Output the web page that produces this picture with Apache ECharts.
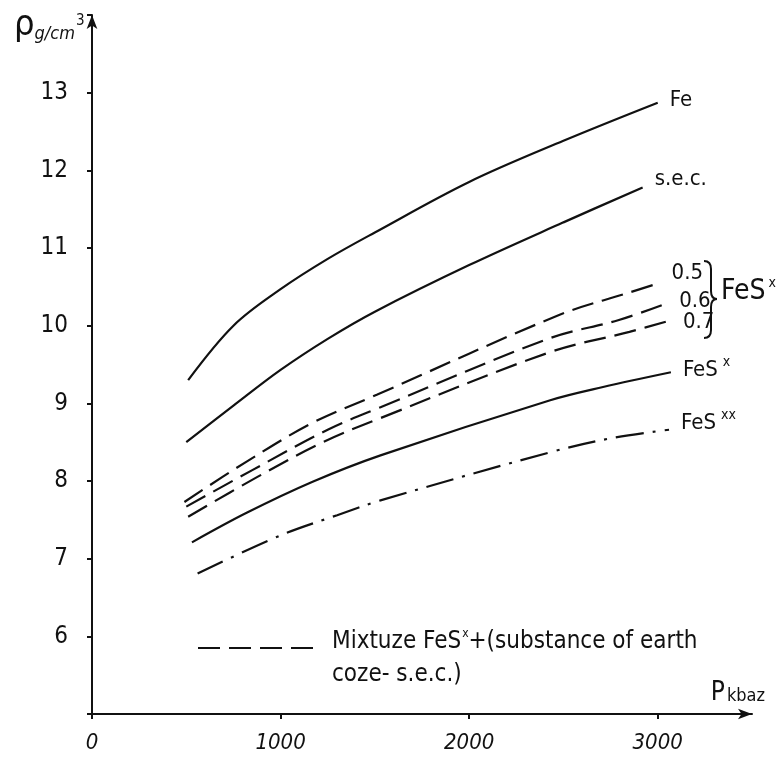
<!DOCTYPE html>
<html>
<head>
<meta charset="utf-8">
<script src="https://cdn.jsdelivr.net/npm/echarts@6/dist/echarts.min.js"></script>
<style>
  html, body { margin: 0; padding: 0; background: #fff; }
  #chart { width: 777px; height: 760px; }
</style>
</head>
<body>
<div id="chart"></div>
<script>
// density (g/cm3) vs pressure (kbar)
const feData = [[510, 9.3], [750, 10.0], [1000, 10.47], [1250, 10.86], [1500, 11.2], [2000, 11.85], [2500, 12.38], [3000, 12.87]];
const secData = [[500, 8.5], [750, 8.97], [1000, 9.43], [1250, 9.83], [1500, 10.18], [2000, 10.78], [2500, 11.33], [2920, 11.78]];
const mix05Data = [[490, 7.73], [820, 8.25], [1170, 8.75], [1510, 9.11], [2480, 10.14], [2840, 10.42], [3010, 10.55]];
const mix06Data = [[500, 7.67], [850, 8.14], [1250, 8.66], [1530, 8.95], [2430, 9.84], [2790, 10.07], [3050, 10.29]];
const mix07Data = [[510, 7.54], [875, 8.05], [1225, 8.5], [1530, 8.81], [2430, 9.66], [2850, 9.92], [3070, 10.07]];
const fesData = [[530, 7.21], [820, 7.59], [1170, 7.99], [1530, 8.33], [2430, 9.04], [2710, 9.21], [3070, 9.4]];
const fesxxData = [[560, 6.81], [1000, 7.3], [1300, 7.56], [1530, 7.75], [2430, 8.37], [2750, 8.55], [3060, 8.66]];

const font = "'DejaVu Sans Condensed', 'Noto Sans', sans-serif";
const ink = '#111';
const dash = [22, 9];
const dashDot = [28, 9, 3, 9];

const chart = echarts.init(document.getElementById('chart'));

// shared end label style
const endLab = (text, offset) => ({
  show: true,
  formatter: text,
  distance: 12,
  offset: offset || [0, 0],
  color: ink,
  fontFamily: font,
  fontSize: 22,
  rich: {
    sup: { fontFamily: font, fontSize: 14, color: ink, verticalAlign: 'top', padding: [0, 0, 16, 5] },
  },
});

const line = (name, data, type, label) => ({
  name,
  type: 'line',
  data,
  smooth: 0.35,
  symbol: 'none',
  silent: true,
  lineStyle: { color: ink, width: 2.2, type },
  endLabel: label,
});

// brace pieces (decoration beside the 0.5/0.6/0.7 labels)
const braceStyle = { stroke: ink, lineWidth: 2, fill: 'none' };
const brace = [
  { type: 'bezierCurve', shape: { x1: 704, y1: 261, cpx1: 711, cpy1: 261, x2: 711, y2: 269 }, style: braceStyle },
  { type: 'line', shape: { x1: 711, y1: 269, x2: 711, y2: 291 }, style: braceStyle },
  { type: 'bezierCurve', shape: { x1: 711, y1: 291, cpx1: 711, cpy1: 299, x2: 717, y2: 299 }, style: braceStyle },
  { type: 'bezierCurve', shape: { x1: 717, y1: 299, cpx1: 711, cpy1: 299, x2: 711, y2: 307 }, style: braceStyle },
  { type: 'line', shape: { x1: 711, y1: 307, x2: 711, y2: 330 }, style: braceStyle },
  { type: 'bezierCurve', shape: { x1: 711, y1: 330, cpx1: 711, cpy1: 338, x2: 704, y2: 338 }, style: braceStyle },
];

const option = {
  animation: false,
  grid: { left: 92, right: 25, top: 15, bottom: 46 },
  xAxis: {
    type: 'value',
    min: 0,
    max: 3500,
    interval: 1000,
    axisLine: { lineStyle: { color: ink, width: 2 }, symbol: ['none', 'arrow'], symbolSize: [8, 14] },
    axisTick: { lineStyle: { color: ink, width: 2 }, length: 5 },
    splitLine: { show: false },
    axisLabel: {
      showMaxLabel: false,
      margin: 18,
      color: ink,
      fontFamily: font,
      fontSize: 22,
      fontStyle: 'italic',
      formatter: (v) => String(v),
    },
  },
  yAxis: {
    type: 'value',
    min: 5,
    max: 14,
    interval: 1,
    axisLine: { show: true, lineStyle: { color: ink, width: 2 }, symbol: ['none', 'arrow'], symbolSize: [8, 14] },
    axisTick: { show: true, lineStyle: { color: ink, width: 2 }, length: 5 },
    splitLine: { show: false },
    axisLabel: {
      margin: 24,
      color: ink,
      fontFamily: font,
      fontSize: 24,
      formatter: (v) => (v === 5 || v === 14 ? '' : String(v)),
    },
  },
  series: [
    line('Fe', feData, 'solid', endLab('Fe', [0, -2])),
    line('s.e.c.', secData, 'solid', endLab('s.e.c.', [0, -8])),
    line('0.5', mix05Data, dash, endLab('0.5', [0, -10])),
    line('0.6', mix06Data, dash, endLab('0.6', [0, -2])),
    line('0.7', mix07Data, dash, endLab('0.7', [0, 2])),
    line('FeS x', fesData, 'solid', endLab('FeS{sup|x}', [0, -2])),
    line('FeS xx', fesxxData, dashDot, endLab('FeS{sup|xx}', [0, -6])),
  ],
  graphic: [
    {
      type: 'text',
      left: 14,
      top: 8,
      style: {
        text: '{r|ρ}{u|g/cm}{s|3}',
        rich: {
          r: { fontFamily: font, fontSize: 36, fill: ink },
          u: { fontFamily: font, fontSize: 18, fill: ink, fontStyle: 'italic', padding: [16, 0, 0, 0] },
          s: { fontFamily: font, fontSize: 15, fill: ink, padding: [0, 0, 10, 1] },
        },
      },
    },
    {
      type: 'text',
      right: 12,
      top: 680,
      style: {
        text: '{p|P}{k|kbaz}',
        rich: {
          p: { fontFamily: font, fontSize: 26, fill: ink },
          k: { fontFamily: font, fontSize: 18, fill: ink, padding: [6, 0, 0, 2] },
        },
      },
    },
    { type: 'group', children: brace },
    {
      type: 'text',
      left: 721,
      top: 276,
      style: {
        text: '{b|FeS}{sup|x}',
        rich: {
          b: { fontFamily: font, fontSize: 28, fill: ink },
          sup: { fontFamily: font, fontSize: 14, fill: ink, padding: [0, 0, 18, 3] },
        },
      },
    },
    {
      // legend sample for the dashed mixture curves
      type: 'line',
      shape: { x1: 198, y1: 648, x2: 322, y2: 648 },
      style: { stroke: ink, lineWidth: 2.2, lineDash: [22, 9] },
    },
    {
      type: 'text',
      left: 332,
      top: 628,
      style: {
        text: '{t|Mixtuze FeS}{sup|x}{t|+(substance of earth}\n{t|coze- s.e.c.)}',
        rich: {
          t: { fontFamily: font, fontSize: 24, fill: ink, lineHeight: 33 },
          sup: { fontFamily: font, fontSize: 12, fill: ink, padding: [0, 0, 16, 1] },
        },
      },
    },
  ],
};

chart.setOption(option);
</script>
</body>
</html>
